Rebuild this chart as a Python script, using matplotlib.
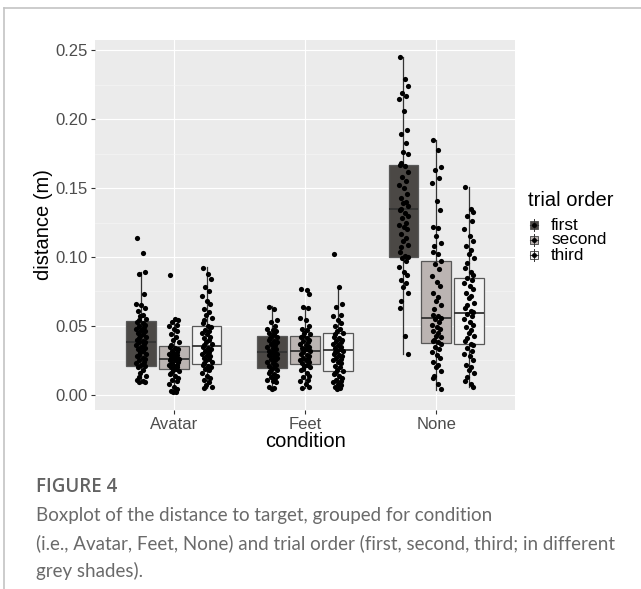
import matplotlib.pyplot as plt
from matplotlib.patches import Rectangle
from matplotlib.lines import Line2D

# Data
conditions = ["Avatar", "Feet", "None"]
orders = ["first", "second", "third"]
fills = ["#4b4845", "#bbb4b2", "#f2f2f2"]

# box stats per trial order, one value per condition
q1 = {"first": [0.0212, 0.0195, 0.0999],
      "second": [0.0190, 0.0226, 0.0373],
      "third": [0.0224, 0.0176, 0.0368]}
med = {"first": [0.0382, 0.0308, 0.1347],
       "second": [0.0260, 0.0320, 0.0561],
       "third": [0.0356, 0.0325, 0.0597]}
q3 = {"first": [0.0537, 0.0426, 0.1667],
      "second": [0.0356, 0.0426, 0.0970],
      "third": [0.0498, 0.0447, 0.0851]}
whis_lo = {"first": [0.0084, 0.0041, 0.0294],
           "second": [0.0015, 0.0048, 0.0036],
           "third": [0.0053, 0.0040, 0.0060]}
whis_hi = {"first": [0.0895, 0.0645, 0.2449],
           "second": [0.0558, 0.0638, 0.1852],
           "third": [0.0926, 0.0777, 0.1508]}

# individual trials (distance in m)
avatar_first = [0.114, 0.103, 0.089, 0.088, 0.073, 0.066, 0.065, 0.063, 0.061, 0.058, 0.057, 0.055,
                0.054, 0.053, 0.052, 0.051, 0.050, 0.049, 0.048, 0.047, 0.046, 0.045, 0.044, 0.043,
                0.042, 0.041, 0.040, 0.039, 0.038, 0.038, 0.037, 0.036, 0.035, 0.034, 0.033, 0.032,
                0.031, 0.030, 0.029, 0.028, 0.027, 0.026, 0.025, 0.024, 0.023, 0.022, 0.021, 0.020,
                0.018, 0.016, 0.014, 0.013, 0.011, 0.010, 0.009, 0.009]
avatar_second = [0.087, 0.055, 0.054, 0.053, 0.051, 0.050, 0.048, 0.046, 0.044, 0.042, 0.040, 0.038,
                 0.036, 0.035, 0.034, 0.033, 0.032, 0.031, 0.030, 0.030, 0.029, 0.028, 0.027, 0.027,
                 0.026, 0.026, 0.025, 0.025, 0.024, 0.023, 0.022, 0.022, 0.021, 0.020, 0.020, 0.019,
                 0.018, 0.017, 0.016, 0.015, 0.014, 0.012, 0.011, 0.010, 0.008, 0.006, 0.004, 0.003,
                 0.002, 0.002]
avatar_third = [0.092, 0.088, 0.084, 0.078, 0.075, 0.072, 0.068, 0.066, 0.062, 0.060, 0.058, 0.056,
                0.054, 0.052, 0.050, 0.049, 0.047, 0.046, 0.045, 0.044, 0.042, 0.041, 0.040, 0.038,
                0.037, 0.036, 0.035, 0.034, 0.033, 0.032, 0.031, 0.030, 0.029, 0.028, 0.027, 0.026,
                0.025, 0.024, 0.023, 0.022, 0.021, 0.020, 0.019, 0.018, 0.016, 0.014, 0.012, 0.011,
                0.009, 0.007, 0.006, 0.005]
feet_first = [0.064, 0.062, 0.054, 0.053, 0.050, 0.048, 0.047, 0.046, 0.045, 0.044, 0.043, 0.042,
              0.041, 0.040, 0.039, 0.038, 0.037, 0.036, 0.035, 0.034, 0.033, 0.032, 0.031, 0.031,
              0.030, 0.030, 0.029, 0.028, 0.027, 0.026, 0.025, 0.024, 0.023, 0.022, 0.021, 0.020,
              0.019, 0.018, 0.017, 0.016, 0.015, 0.014, 0.013, 0.012, 0.011, 0.010, 0.009, 0.006,
              0.005, 0.004]
feet_second = [0.077, 0.076, 0.073, 0.064, 0.063, 0.056, 0.054, 0.050, 0.048, 0.047, 0.045, 0.044,
               0.043, 0.042, 0.041, 0.040, 0.039, 0.038, 0.037, 0.036, 0.035, 0.034, 0.033, 0.033,
               0.032, 0.031, 0.030, 0.029, 0.028, 0.027, 0.026, 0.025, 0.025, 0.024, 0.023, 0.022,
               0.021, 0.020, 0.019, 0.018, 0.016, 0.014, 0.013, 0.011, 0.010, 0.008, 0.006, 0.005]
feet_third = [0.102, 0.078, 0.066, 0.064, 0.058, 0.057, 0.054, 0.052, 0.050, 0.048, 0.046, 0.045,
              0.044, 0.042, 0.041, 0.040, 0.039, 0.038, 0.037, 0.036, 0.035, 0.034, 0.033, 0.032,
              0.032, 0.031, 0.030, 0.029, 0.028, 0.027, 0.026, 0.025, 0.024, 0.023, 0.021, 0.020,
              0.018, 0.017, 0.016, 0.015, 0.014, 0.012, 0.011, 0.010, 0.009, 0.008, 0.007, 0.006,
              0.005, 0.004]
none_first = [0.245, 0.229, 0.224, 0.219, 0.217, 0.215, 0.206, 0.192, 0.189, 0.183, 0.176, 0.175,
              0.168, 0.167, 0.166, 0.162, 0.158, 0.155, 0.152, 0.150, 0.146, 0.143, 0.140, 0.139,
              0.137, 0.135, 0.134, 0.132, 0.130, 0.128, 0.125, 0.123, 0.122, 0.120, 0.117, 0.114,
              0.112, 0.109, 0.107, 0.104, 0.101, 0.100, 0.099, 0.097, 0.093, 0.089, 0.087, 0.083,
              0.081, 0.078, 0.074, 0.068, 0.063, 0.043, 0.030]
none_second = [0.185, 0.178, 0.165, 0.163, 0.157, 0.154, 0.141, 0.134, 0.122, 0.121, 0.115, 0.110,
               0.108, 0.104, 0.102, 0.097, 0.095, 0.091, 0.086, 0.082, 0.079, 0.074, 0.071, 0.068,
               0.065, 0.062, 0.058, 0.057, 0.056, 0.055, 0.053, 0.051, 0.049, 0.048, 0.046, 0.045,
               0.043, 0.042, 0.040, 0.039, 0.038, 0.037, 0.035, 0.033, 0.031, 0.029, 0.027, 0.024,
               0.022, 0.020, 0.017, 0.014, 0.012, 0.008, 0.004]
none_third = [0.151, 0.135, 0.133, 0.130, 0.126, 0.120, 0.115, 0.112, 0.108, 0.105, 0.102, 0.099,
              0.096, 0.092, 0.089, 0.087, 0.085, 0.083, 0.081, 0.079, 0.077, 0.074, 0.072, 0.070,
              0.067, 0.065, 0.063, 0.061, 0.060, 0.059, 0.057, 0.055, 0.053, 0.051, 0.049, 0.047,
              0.045, 0.043, 0.041, 0.039, 0.037, 0.036, 0.034, 0.032, 0.030, 0.028, 0.025, 0.022,
              0.020, 0.018, 0.016, 0.013, 0.010, 0.008, 0.006]

points = {
    "first": [avatar_first, feet_first, none_first],
    "second": [avatar_second, feet_second, none_second],
    "third": [avatar_third, feet_third, none_third],
}

# small fixed horizontal jitter pattern (in category units)
jitter = [-0.028, 0.012, 0.033, -0.012, 0.022, -0.036, 0.004, 0.028, -0.022, 0.016, -0.004, 0.038, -0.018]

W, H = 641, 589
plt.rcParams["font.family"] = ["Liberation Sans", "DejaVu Sans"]
fig = plt.figure(figsize=(W / 100, H / 100), dpi=100)

ax = fig.add_axes([95 / W, 1 - 410 / H, 420 / W, 370 / H])
ax.set_facecolor("#ebebeb")
for s in ax.spines.values():
    s.set_visible(False)

dodge = 0.25
for i, order in enumerate(orders):
    off = (i - 1) * dodge
    stats = []
    for j in range(len(conditions)):
        stats.append({"med": med[order][j], "q1": q1[order][j], "q3": q3[order][j],
                      "whislo": whis_lo[order][j], "whishi": whis_hi[order][j], "fliers": []})
    pos = [j + 1 + off for j in range(len(conditions))]
    ax.bxp(stats, positions=pos, widths=0.225, showfliers=False, showcaps=False,
           patch_artist=True, manage_ticks=False,
           boxprops=dict(facecolor=fills[i], edgecolor="#585858", linewidth=0.9),
           medianprops=dict(color="#333333", linewidth=1.3),
           whiskerprops=dict(color="#333333", linewidth=0.9), zorder=2)
    for j, vals in enumerate(points[order]):
        xs = [pos[j] + jitter[k % len(jitter)] for k in range(len(vals))]
        ax.scatter(xs, vals, s=14, color="black", linewidths=0, zorder=3)

ax.set_xlim(0.4, 3.6)
ax.set_ylim(-0.011, 0.2575)
ax.set_yticks([0.0, 0.05, 0.10, 0.15, 0.20, 0.25])
ax.set_yticklabels(["0.00", "0.05", "0.10", "0.15", "0.20", "0.25"])
ax.set_yticks([0.025, 0.075, 0.125, 0.175, 0.225], minor=True)
ax.set_xticks([1, 2, 3])
ax.set_xticklabels(conditions)
ax.grid(True, which="major", color="white", linewidth=0.8, zorder=0)
ax.grid(True, which="minor", axis="y", color="#f7f7f7", linewidth=0.4, zorder=0)
ax.set_axisbelow(True)
ax.tick_params(axis="both", which="major", length=3, width=0.8, color="#333333",
               labelsize=12, labelcolor="#4d4d4d", pad=2)
ax.tick_params(axis="y", which="minor", length=0)
ax.set_xlabel("condition", fontsize=14.5, labelpad=0)
ax.set_ylabel("distance (m)", fontsize=14.5, labelpad=2)

# overlay in pixel coordinates for legend, frame and caption
ov = fig.add_axes([0, 0, 1, 1])
ov.set_xlim(0, W)
ov.set_ylim(H, 0)
ov.axis("off")
ov.patch.set_alpha(0)

ov.add_line(Line2D([4, W], [8, 8], color="#c4c4c4", linewidth=1.2))
ov.add_line(Line2D([4, 4], [8, H], color="#c4c4c4", linewidth=1.2))

ov.text(528, 200, "trial order", fontsize=14.5, va="center", ha="left")
for k, lab in enumerate(orders):
    cy = 225 + k * 15
    ov.add_line(Line2D([533.5, 533.5], [cy - 6, cy + 6], color="#333333", linewidth=0.7))
    ov.add_patch(Rectangle((529.5, cy - 4), 8, 8, facecolor=fills[k], edgecolor="#585858", linewidth=0.7))
    ov.add_line(Line2D([529.5, 537.5], [cy, cy], color="#333333", linewidth=0.8))
    ov.plot([533.5], [cy], marker="o", markersize=2.5, color="black")
    ov.text(551, cy, lab, fontsize=12.3, va="center", ha="left")

cap_color = "#6a6a6a"
ov.text(36, 487, "FIGURE 4", fontsize=13.5, fontweight="semibold", color="#636363",
        family=["Open Sans", "DejaVu Sans"], va="center", ha="left")
caption = ["Boxplot of the distance to target, grouped for condition",
           "(i.e., Avatar, Feet, None) and trial order (first, second, third; in different",
           "grey shades)."]
for k, line in enumerate(caption):
    ov.text(36, 516 + k * 27.5, line, fontsize=13.5, color=cap_color,
            family=["Lato", "DejaVu Sans"], va="center", ha="left")

fig.savefig("out.png", dpi=100)
